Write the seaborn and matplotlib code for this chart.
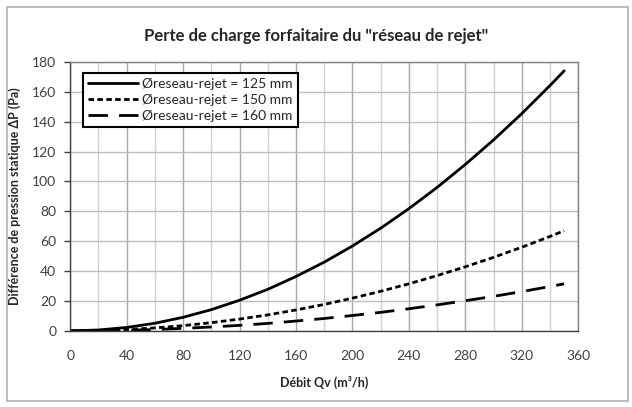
import numpy as np
import pandas as pd
import matplotlib.pyplot as plt
import seaborn as sns
from matplotlib.patches import Rectangle
from matplotlib.ticker import MultipleLocator

sns.set_theme(style="white")
plt.rcParams['font.family'] = ['Lato', 'DejaVu Sans']

# Data
debit = [0, 20, 40, 60, 80, 100, 120, 140, 160, 180, 200, 220, 240, 260, 280, 300, 320, 340, 350]
dp_125 = [0, 0.6, 2.3, 5.1, 9.1, 14.2, 20.5, 27.8, 36.4, 46.0, 56.8, 68.7, 81.8, 96.0, 111.4, 127.8, 145.4, 164.2, 174.0]
dp_150 = [0, 0.2, 0.9, 2.0, 3.5, 5.5, 7.9, 10.7, 14.0, 17.7, 21.9, 26.5, 31.5, 37.0, 42.9, 49.2, 56.0, 63.2, 67.0]
dp_160 = [0, 0.1, 0.4, 0.9, 1.7, 2.6, 3.7, 5.0, 6.6, 8.3, 10.3, 12.4, 14.8, 17.4, 20.2, 23.1, 26.3, 29.7, 31.5]

labels = ["Øreseau-rejet = 125 mm", "Øreseau-rejet = 150 mm", "Øreseau-rejet = 160 mm"]
series = [dp_125, dp_150, dp_160]
dash_styles = [(None, None), (2.0, 1.2), (7, 4)]

fig = plt.figure(figsize=(6.32, 4.07), dpi=100)
ax = fig.add_axes([0.111, 0.187, 0.804, 0.661])

for lab, vals, ds in zip(labels, series, dash_styles):
    df = pd.DataFrame({"Qv": debit, "dP": vals})
    sns.lineplot(data=df, x="Qv", y="dP", ax=ax, color="black", linewidth=2, label=lab)
    if ds[0] is not None:
        ax.lines[-1].set_dashes(ds)

ax.set_xlim(0, 360)
ax.set_ylim(0, 180)
ax.xaxis.set_major_locator(MultipleLocator(40))
ax.xaxis.set_minor_locator(MultipleLocator(20))
ax.yaxis.set_major_locator(MultipleLocator(20))

ax.grid(True, which='major', axis='x', color='#a8a8a8', linewidth=1)
ax.grid(True, which='minor', axis='x', color='#d0d0d0', linewidth=1)
ax.grid(True, which='major', axis='y', color='#bdbdbd', linewidth=1)
ax.set_axisbelow(True)

for s in ['top', 'right']:
    ax.spines[s].set_color('#808080')
    ax.spines[s].set_linewidth(1)
for s in ['left', 'bottom']:
    ax.spines[s].set_color('#404040')
    ax.spines[s].set_linewidth(1)

ax.tick_params(axis='both', which='major', labelsize=10, colors='#404040', length=4, width=1,
               left=True, bottom=False, pad=6)
ax.tick_params(axis='x', pad=10)
ax.tick_params(which='minor', length=0)

ax.set_xlabel("Débit Qv (m³/h)", fontsize=9, fontweight='bold', labelpad=10)
ax.set_ylabel("Différence de pression statique ΔP (Pa)", fontsize=9, fontweight='bold', labelpad=8)
fig.text(0.5, 0.912, 'Perte de charge forfaitaire du "réseau de rejet"', ha='center', va='center',
         fontsize=12, fontweight='bold')

leg = ax.legend(loc='upper left', bbox_to_anchor=(0.012, 0.985), fontsize=10, frameon=True,
                fancybox=False, edgecolor='black', handlelength=3.6, handletextpad=0.3,
                borderpad=0.35, labelspacing=0.3, framealpha=1)
leg.get_frame().set_linewidth(1.5)

fig.patches.append(Rectangle((0.011, 0.015), 0.982, 0.968, transform=fig.transFigure,
                             fill=False, edgecolor='#b0b0b0', linewidth=1.2))

fig.savefig("out.png", dpi=100)
